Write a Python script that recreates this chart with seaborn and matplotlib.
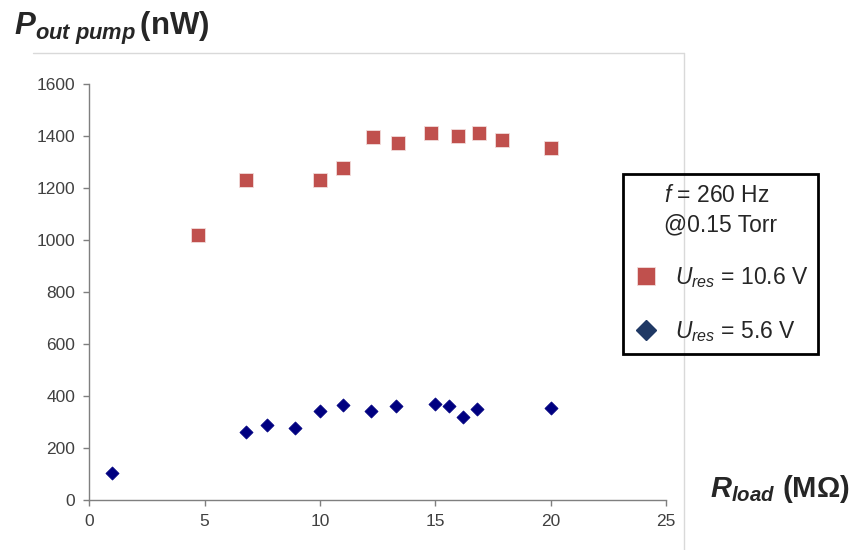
import pandas as pd
import matplotlib.pyplot as plt
import seaborn as sns
from matplotlib.lines import Line2D

sns.set_style('ticks')
plt.rcParams['font.family'] = ['Liberation Sans', 'DejaVu Sans']
plt.rcParams['mathtext.fontset'] = 'custom'
plt.rcParams['mathtext.rm'] = 'Liberation Sans'
plt.rcParams['mathtext.it'] = 'Liberation Sans:italic'
plt.rcParams['mathtext.bf'] = 'Liberation Sans:bold'
plt.rcParams['mathtext.bfit'] = 'Liberation Sans:bold:italic'

# ---- data ----
r_load_high = [4.7, 6.8, 10.0, 11.0, 12.3, 13.4, 14.8, 16.0, 16.9, 17.9, 20.0]
p_out_high = [1020, 1229, 1229, 1277, 1397, 1372, 1413, 1400, 1413, 1383, 1354]

r_load_low = [1.0, 6.8, 7.7, 8.9, 10.0, 11.0, 12.2, 13.3, 15.0, 15.6, 16.2, 16.8, 20.0]
p_out_low = [103, 260, 288, 277, 341, 364, 341, 362, 368, 363, 318, 350, 353]

label_high = r'$\mathit{U}_{\mathit{res}}$ = 10.6 V'
label_low = r'$\mathit{U}_{\mathit{res}}$ = 5.6 V'
legend_title = '$\\mathit{f}$ = 260 Hz\n@0.15 Torr'

x_ticks = [0, 5, 10, 15, 20, 25]
y_ticks = [0, 200, 400, 600, 800, 1000, 1200, 1400, 1600]

df_high = pd.DataFrame({'R': r_load_high, 'P': p_out_high})
df_low = pd.DataFrame({'R': r_load_low, 'P': p_out_low})

red = '#C0504D'
navy = '#000080'

fig = plt.figure(figsize=(8.59, 5.50), dpi=100)
ax = fig.add_axes([89.3 / 859, 1 - 500 / 550, (666 - 89.3) / 859, (500 - 84) / 550])

sns.scatterplot(data=df_high, x='R', y='P', marker='s', s=100, color=red,
                edgecolor='#F2DCDB', linewidth=0.6, ax=ax, zorder=3)
sns.scatterplot(data=df_low, x='R', y='P', marker='D', s=45, color=navy,
                edgecolor=navy, linewidth=0.5, ax=ax, zorder=3)

ax.set_xlim(0, 25)
ax.set_ylim(0, 1600)
ax.set_xticks(x_ticks)
ax.set_yticks(y_ticks)
ax.set_xlabel('')
ax.set_ylabel('')
ax.tick_params(axis='both', direction='out', length=4, width=1, color='#7F7F7F',
               labelsize=12.5, labelcolor='#404040', pad=6)
for side in ['top', 'right']:
    ax.spines[side].set_visible(False)
for side in ['left', 'bottom']:
    ax.spines[side].set_color('#7F7F7F')
    ax.spines[side].set_linewidth(1)

# axis titles, placed like the original slide
fig.text(14 / 859, 1 - 35 / 550,
         r'$\mathbfit{P}_{\mathbfit{out\ pump}}\,\mathbf{(nW)}$',
         fontsize=22.5, va='baseline', ha='left')
fig.text(710 / 859, 1 - 497 / 550,
         r'$\mathbfit{R}_{\mathbfit{load}}$ $\mathbf{(M\Omega)}$',
         fontsize=21, va='baseline', ha='left')

# outer chart frame (top and right edge only visible)
fig.add_artist(Line2D([33 / 859, 684 / 859], [1 - 53 / 550, 1 - 53 / 550],
                      transform=fig.transFigure, color='#D9D9D9', lw=1))
fig.add_artist(Line2D([684 / 859, 684 / 859], [1 - 53 / 550, 0],
                      transform=fig.transFigure, color='#D9D9D9', lw=1))

handles = [
    Line2D([], [], marker='s', linestyle='none', markersize=12.5, color=red,
           markeredgecolor='#F2DCDB', markeredgewidth=0.6),
    Line2D([], [], marker='D', linestyle='none', markersize=10.5, color='#1F3864'),
]
leg = fig.legend(handles, [label_high, label_low], title=legend_title,
                 loc='upper left', bbox_to_anchor=(623 / 859, 1 - 174 / 550),
                 fontsize=16.5, title_fontsize=16.5, frameon=True, fancybox=False,
                 facecolor='none', labelspacing=1.25, handletextpad=0.7,
                 borderpad=0.45, handlelength=1.1, borderaxespad=0)
leg.get_title().set_linespacing(1.35)
frame = leg.get_frame()
frame.set_edgecolor('black')
frame.set_alpha(1)
frame.set_facecolor('none')
frame.set_linewidth(2)

fig.savefig('out.png', dpi=100)
